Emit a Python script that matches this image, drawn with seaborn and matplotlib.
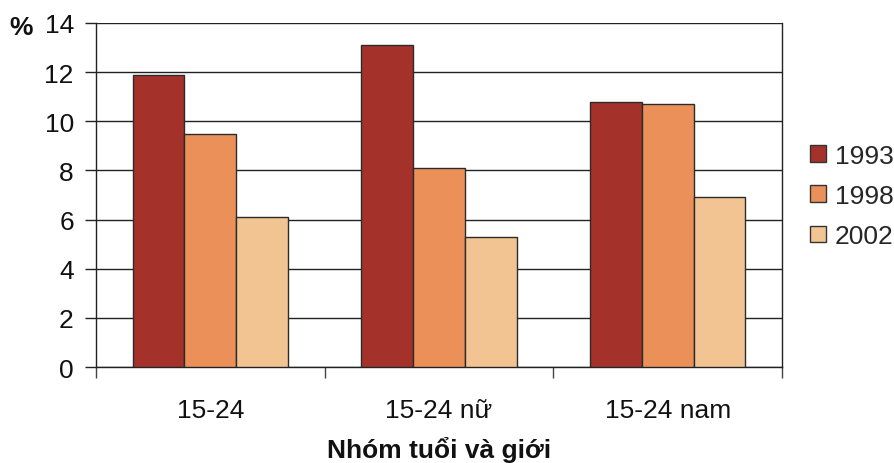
import matplotlib
matplotlib.use("Agg")
import matplotlib.pyplot as plt
import seaborn as sns
import pandas as pd
from matplotlib.patches import Patch

# Survey data: share (%) by age/sex group and year
groups = ["15-24", "15-24 nữ", "15-24 nam"]
years = ["1993", "1998", "2002"]
values_1993 = [11.9, 13.1, 10.8]
values_1998 = [9.5, 8.1, 10.7]
values_2002 = [6.1, 5.3, 6.9]
y_ticks = [0, 2, 4, 6, 8, 10, 12, 14]
colors = ["#A5322A", "#EB9058", "#F2C492"]

df = pd.DataFrame({
    "group": groups * 3,
    "year": [years[0]] * 3 + [years[1]] * 3 + [years[2]] * 3,
    "value": values_1993 + values_1998 + values_2002,
})

sns.set_theme(style="white")
plt.rcParams["font.family"] = ["Liberation Sans", "DejaVu Sans"]
FS = 19

fig = plt.figure(figsize=(8.95, 4.64), dpi=100)
ax = fig.add_axes([96 / 895, 1 - 368 / 464, (782 - 96) / 895, (368 - 24) / 464])

sns.barplot(data=df, x="group", y="value", hue="year", order=groups,
            hue_order=years, palette=colors, width=0.68, gap=0,
            edgecolor="#2b2b2b", linewidth=1.0, saturation=1,
            legend=False, ax=ax, zorder=3)

ax.set_xlim(-0.5, 2.5)
ax.set_ylim(0, 14)
ax.set_yticks(y_ticks)
ax.set_yticklabels([str(t) for t in y_ticks], fontsize=FS, color="#111111")
ax.grid(axis="y", color="#222222", linewidth=1.0, zorder=0)
ax.set_axisbelow(True)

# x ticks: labels centred, tick marks at group boundaries
ax.set_xticks(range(len(groups)))
ax.set_xticklabels(groups, fontsize=FS, color="#111111")
ax.tick_params(axis="x", which="major", length=0, pad=22)
ax.set_xticks([-0.5, 0.5, 1.5, 2.5], minor=True)
ax.tick_params(axis="x", which="minor", length=8, width=1.0, color="#444444",
               direction="out", bottom=True)
ax.tick_params(axis="y", which="major", length=8, width=1.0, color="#222222",
               direction="out", left=True, pad=8)

for side in ["left", "bottom", "right"]:
    ax.spines[side].set_visible(True)
    ax.spines[side].set_color("#222222")
    ax.spines[side].set_linewidth(1.0)
ax.spines["top"].set_visible(False)

ax.set_xlabel("")
ax.set_ylabel("")
fig.text(439 / 895, 1 / 464, "Nhóm tuổi và giới", fontsize=FS,
         fontweight="bold", ha="center", va="bottom", color="#111111")
fig.text(21 / 895, 1 - 28 / 464, "%", fontsize=FS, fontweight="bold",
         ha="center", va="center", color="#111111")

handles = [Patch(facecolor=c, edgecolor="#333333", linewidth=1.0) for c in colors]
fig.legend(handles, years, loc="center left",
           bbox_to_anchor=(810 / 895, 1 - 197 / 464), frameon=False,
           fontsize=FS, handlelength=0.6, handleheight=0.6,
           handletextpad=0.35, labelspacing=0.62, borderaxespad=0,
           borderpad=0)

fig.savefig("out.png", dpi=100)
